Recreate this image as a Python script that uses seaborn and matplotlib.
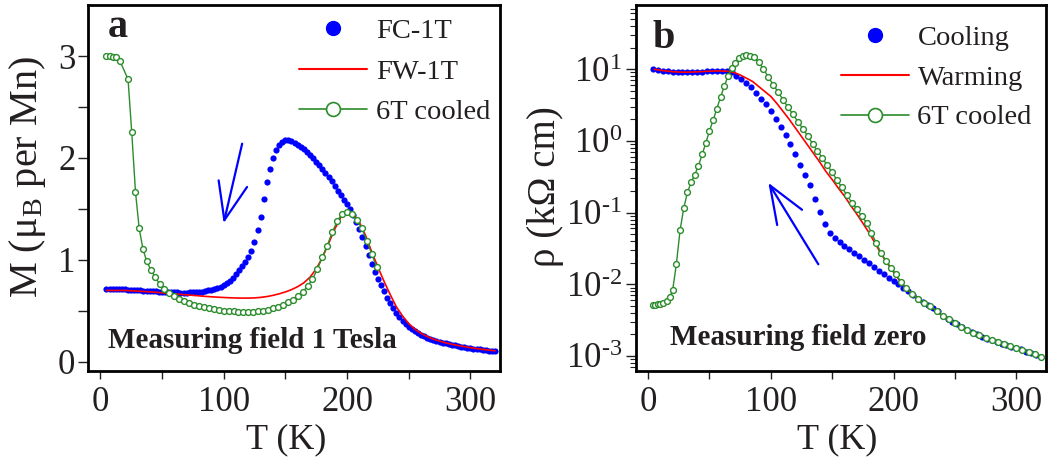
import numpy as np
import pandas as pd
import matplotlib
matplotlib.use("Agg")
import matplotlib.pyplot as plt
from matplotlib.lines import Line2D
from matplotlib.ticker import FuncFormatter, NullFormatter
import seaborn as sns

# ---------------- data: panel a (magnetization) ----------------
T_fc = [5, 7.5, 10, 12.5, 15, 17.5, 20, 22.5, 25, 27.5, 30, 32.5, 35, 37.5, 40, 42.5, 45, 47.5, 50,
        52.5, 55, 57.5, 60, 62.5, 65, 67.5, 70, 72.5, 75, 77.5, 80, 82.5, 85, 87.5, 90, 92.5, 95, 97.5,
        100, 102.5, 105, 107.5, 110, 112.5, 115, 117.5, 120, 122.5, 125, 127.5, 130, 132.5, 135, 137.5,
        140, 142.5, 145, 147.5, 150, 152.5, 155, 157.5, 160, 162.5, 165, 167.5, 170, 172.5, 175, 177.5,
        180, 182.5, 185, 187.5, 190, 192.5, 195, 197.5, 200, 202.5, 205, 207.5, 210, 212.5, 215, 217.5,
        220, 222.5, 225, 227.5, 230, 232.5, 235, 237.5, 240, 242.5, 245, 247.5, 250, 252.5, 255, 257.5,
        260, 262.5, 265, 267.5, 270, 272.5, 275, 277.5, 280, 282.5, 285, 287.5, 290, 292.5, 295, 297.5,
        300, 302.5, 305, 307.5, 310, 312.5, 315, 317.5, 320]
M_fc = [0.71, 0.71, 0.71, 0.71, 0.71, 0.71, 0.71, 0.708, 0.705, 0.703, 0.70, 0.70, 0.698, 0.696, 0.694,
        0.692, 0.69, 0.688, 0.686, 0.684, 0.682, 0.68, 0.68, 0.68, 0.679, 0.679, 0.679, 0.68, 0.68, 0.682,
        0.685, 0.688, 0.692, 0.70, 0.707, 0.715, 0.725, 0.737, 0.75, 0.77, 0.795, 0.825, 0.86, 0.90, 0.94,
        0.98, 1.03, 1.09, 1.18, 1.29, 1.42, 1.60, 1.76, 1.89, 2.00, 2.08, 2.13, 2.16, 2.175, 2.175, 2.165,
        2.15, 2.13, 2.11, 2.085, 2.06, 2.03, 2.00, 1.965, 1.93, 1.89, 1.85, 1.81, 1.77, 1.72, 1.68, 1.64,
        1.59, 1.55, 1.50, 1.44, 1.37, 1.30, 1.22, 1.14, 1.05, 0.96, 0.88, 0.81, 0.75, 0.69, 0.63, 0.575,
        0.525, 0.48, 0.44, 0.405, 0.375, 0.345, 0.32, 0.30, 0.28, 0.265, 0.25, 0.237, 0.225, 0.215, 0.205,
        0.196, 0.188, 0.18, 0.173, 0.166, 0.16, 0.154, 0.148, 0.143, 0.138, 0.133, 0.129, 0.125, 0.121,
        0.117, 0.113, 0.11, 0.106, 0.103]

T_fw = [5, 10, 15, 20, 25, 30, 35, 40, 45, 50, 55, 60, 65, 70, 75, 80, 85, 90, 95, 100, 105, 110, 115,
        120, 125, 130, 135, 140, 145, 150, 155, 160, 165, 170, 175, 180, 185, 190, 195, 200, 205, 210,
        215, 220, 225, 230, 235, 240, 245, 250, 255, 260, 265, 270, 275, 280, 285, 290, 295, 300, 305,
        310, 315, 320]
M_fw = [0.70, 0.70, 0.70, 0.70, 0.697, 0.694, 0.69, 0.686, 0.682, 0.677, 0.672, 0.667, 0.662, 0.657,
        0.652, 0.647, 0.642, 0.638, 0.634, 0.631, 0.628, 0.626, 0.625, 0.625, 0.627, 0.632, 0.64, 0.652,
        0.667, 0.685, 0.708, 0.737, 0.775, 0.83, 0.91, 1.02, 1.16, 1.30, 1.42, 1.47, 1.45, 1.37, 1.24,
        1.08, 0.93, 0.79, 0.66, 0.54, 0.45, 0.375, 0.32, 0.28, 0.248, 0.223, 0.203, 0.186, 0.172, 0.16,
        0.149, 0.139, 0.13, 0.122, 0.115, 0.108]

T_6t_a = [5, 7.5, 10, 12.5, 16, 22.5, 25.5, 28.5, 31.5, 34.5, 37.5, 41, 44.5, 48, 52, 56, 60, 64, 68,
          72, 76, 80, 84, 88, 92, 96, 100, 104, 108, 112, 116, 120, 124, 128, 132, 136, 140, 144, 148,
          152, 156, 160, 164, 168, 172, 176, 180, 184, 188, 192, 196, 200, 204, 208, 212, 216, 220, 224]
M_6t_a = [3.00, 3.00, 2.995, 2.99, 2.95, 2.77, 2.25, 1.67, 1.31, 1.11, 0.99, 0.90, 0.83, 0.765, 0.715,
          0.675, 0.645, 0.62, 0.595, 0.575, 0.56, 0.545, 0.533, 0.523, 0.515, 0.508, 0.502, 0.497, 0.494,
          0.492, 0.491, 0.491, 0.493, 0.497, 0.503, 0.512, 0.524, 0.54, 0.56, 0.583, 0.61, 0.643, 0.685,
          0.74, 0.81, 0.91, 1.03, 1.14, 1.27, 1.38, 1.45, 1.47, 1.45, 1.39, 1.31, 1.19, 1.06, 0.93]

# ---------------- data: panel b (resistivity, log10 of kOhm cm) ----------------
T_cool = [4, 8, 12, 16, 20, 24, 28, 32, 36, 40, 44, 48, 52, 56, 60, 64, 68, 72, 76, 80, 84, 88, 92, 96,
          100, 104, 108, 112, 116, 120, 124, 128, 132, 136, 140, 144, 148, 152, 156, 160, 164, 168, 172,
          176, 180, 184, 188, 192, 196, 200, 204, 208, 212, 216, 220, 224, 228, 232, 236, 240, 244, 248,
          252, 256, 260, 264, 268, 272, 276, 280, 284, 288, 292, 296, 300, 304, 308, 312, 316, 320]
logrho_cool = [1.00, 0.99, 0.98, 0.97, 0.965, 0.96, 0.958, 0.958, 0.96, 0.963, 0.967, 0.972, 0.976,
               0.978, 0.978, 0.975, 0.96, 0.91, 0.86, 0.81, 0.75, 0.67, 0.59, 0.51, 0.41, 0.31, 0.20,
               0.08, -0.05, -0.18, -0.33, -0.48, -0.62, -0.81, -0.99, -1.16, -1.28, -1.35, -1.41, -1.46,
               -1.51, -1.56, -1.61, -1.66, -1.71, -1.76, -1.81, -1.86, -1.91, -1.95, -2.00, -2.05, -2.09,
               -2.15, -2.20, -2.25, -2.29, -2.33, -2.38, -2.44, -2.48, -2.52, -2.56, -2.60, -2.64, -2.67,
               -2.70, -2.73, -2.76, -2.78, -2.80, -2.83, -2.85, -2.87, -2.89, -2.91, -2.94, -2.96, -2.99,
               -3.01]

T_warm = T_fw
logrho_warm = [1.00, 0.985, 0.975, 0.965, 0.96, 0.958, 0.96, 0.963, 0.968, 0.972, 0.975, 0.975, 0.97,
               0.955, 0.92, 0.875, 0.83, 0.76, 0.69, 0.62, 0.52, 0.41, 0.30, 0.18, 0.06, -0.06, -0.18,
               -0.30, -0.43, -0.54, -0.66, -0.77, -0.90, -1.02, -1.15, -1.28, -1.43, -1.58, -1.71, -1.83,
               -1.95, -2.05, -2.13, -2.20, -2.26, -2.31, -2.37, -2.44, -2.49, -2.54, -2.59, -2.64, -2.68,
               -2.71, -2.75, -2.78, -2.81, -2.84, -2.86, -2.89, -2.92, -2.95, -2.98, -3.01]

T_6t_b = [4, 6, 8, 10, 12.5, 15, 17.5, 20, 23, 26, 29, 32, 35, 38, 41, 44, 47, 50, 53, 56, 59, 62, 65,
          68, 71, 74, 77, 80, 83, 86, 90, 94, 98, 102, 106, 110, 114, 118, 122, 126, 130, 134, 138, 142,
          146, 150, 154, 158, 162, 166, 170, 174, 178, 182, 186, 190, 194, 198, 202, 206, 210, 215, 220,
          225, 230, 235, 240, 245, 250, 255, 260, 265, 270, 275, 280, 285, 290, 295, 300, 305, 310, 315,
          320]
logrho_6t_b = [-2.29, -2.285, -2.28, -2.27, -2.255, -2.23, -2.18, -2.08, -1.72, -1.25, -0.94, -0.72,
               -0.58, -0.47, -0.35, -0.19, -0.03, 0.14, 0.29, 0.45, 0.61, 0.76, 0.90, 1.01, 1.09, 1.15,
               1.19, 1.20, 1.19, 1.17, 1.10, 1.00, 0.89, 0.78, 0.68, 0.57, 0.47, 0.37, 0.27, 0.17, 0.07,
               -0.04, -0.14, -0.24, -0.34, -0.44, -0.55, -0.65, -0.76, -0.86, -0.95, -1.05, -1.14, -1.28,
               -1.43, -1.57, -1.68, -1.77, -1.86, -1.97, -2.05, -2.13, -2.20, -2.26, -2.31, -2.37, -2.44,
               -2.49, -2.54, -2.59, -2.64, -2.68, -2.71, -2.75, -2.78, -2.81, -2.84, -2.86, -2.89, -2.92,
               -2.95, -2.98, -3.01]

labels_a = ["FC-1T", "FW-1T", "6T cooled"]
labels_b = ["Cooling", "Warming", "6T cooled"]
xticks = [0, 100, 200, 300]

# ---------------- style ----------------
sns.set_theme(style="ticks")
plt.rcParams["font.family"] = ["Liberation Serif", "DejaVu Serif"]
plt.rcParams["mathtext.fontset"] = "custom"
plt.rcParams["mathtext.rm"] = "Liberation Serif"
plt.rcParams["mathtext.it"] = "Liberation Serif:italic"
plt.rcParams["mathtext.bf"] = "Liberation Serif:bold"

BLUE = "#0000ff"
RED = "#ff0000"
GREEN = "#2a8c2a"
TXT = "#231f20"

fig = plt.figure(figsize=(10.51, 4.58), dpi=100)
axa = fig.add_axes([0.0837, 0.19, 0.392, 0.799])
axb = fig.add_axes([0.605, 0.19, 0.390, 0.799])

df_fc = pd.DataFrame({"T": T_fc, "M": M_fc})
df_fw = pd.DataFrame({"T": T_fw, "M": M_fw})
df_6a = pd.DataFrame({"T": T_6t_a, "M": M_6t_a})

sns.scatterplot(data=df_fc, x="T", y="M", ax=axa, color=BLUE, s=20, linewidth=0, zorder=2)
sns.lineplot(data=df_fw, x="T", y="M", ax=axa, color=RED, linewidth=1.2, zorder=3)
sns.lineplot(data=df_6a, x="T", y="M", ax=axa, color=GREEN, linewidth=1.0, marker="o",
             markersize=4.2, markerfacecolor="white", markeredgecolor=GREEN, markeredgewidth=1.0,
             zorder=4)

df_cool = pd.DataFrame({"T": T_cool, "rho": np.power(10.0, logrho_cool)})
df_warm = pd.DataFrame({"T": T_warm, "rho": np.power(10.0, logrho_warm)})
df_6b = pd.DataFrame({"T": T_6t_b, "rho": np.power(10.0, logrho_6t_b)})

sns.scatterplot(data=df_cool, x="T", y="rho", ax=axb, color=BLUE, s=20, linewidth=0, zorder=2)
sns.lineplot(data=df_warm, x="T", y="rho", ax=axb, color=RED, linewidth=1.2, zorder=3)
sns.lineplot(data=df_6b, x="T", y="rho", ax=axb, color=GREEN, linewidth=1.0, marker="o",
             markersize=4.2, markerfacecolor="white", markeredgecolor=GREEN, markeredgewidth=1.0,
             zorder=4)
axb.set_yscale("log")

# axes ranges and ticks
for ax in (axa, axb):
    ax.set_xlim(-10, 324)
    ax.set_xticks(xticks)
    ax.set_xticks([50, 150, 250], minor=True)
    for sp in ax.spines.values():
        sp.set_linewidth(2.0)
        sp.set_color("black")
    ax.tick_params(axis="both", which="both", direction="out", top=False, right=False,
                   colors=TXT, labelcolor=TXT)
    ax.tick_params(axis="x", which="both", length=6, width=1, labelsize=25, pad=5)

axa.set_ylim(-0.09, 3.5)
axa.set_yticks([0, 1, 2, 3])
axa.set_yticks([0.5, 1.5, 2.5], minor=True)
axa.tick_params(axis="y", which="both", length=7, width=1, labelsize=25, pad=2)

axb.set_ylim(10 ** -3.21, 10 ** 1.895)
axb.yaxis.set_major_formatter(FuncFormatter(
    lambda v, pos: r"$\mathregular{10^{%s}}$" % str(int(round(np.log10(v)))).replace("-", "\u2010")))
axb.yaxis.set_minor_formatter(NullFormatter())
axb.tick_params(axis="y", which="major", length=7, width=1, labelsize=25, pad=3)
axb.tick_params(axis="y", which="minor", length=4, width=0.8)

axa.set_xlabel("T (K)", fontsize=26, color=TXT)
axb.set_xlabel("T (K)", fontsize=26, color=TXT)
axa.xaxis.set_label_coords(0.48, -0.142)
axb.xaxis.set_label_coords(0.49, -0.142)
axa.set_ylabel(r"M ($\mathregular{\mu_B}$ per Mn)", fontsize=29, color=TXT)
axb.set_ylabel(r"ρ (kΩ cm)", fontsize=28, color=TXT)
axa.yaxis.set_label_coords(-0.097, 0.529)
axb.yaxis.set_label_coords(-0.175, 0.504)

# panel letters and notes
axa.text(0.049, 0.913, "a", transform=axa.transAxes, fontsize=29, fontweight="bold",
         color=TXT, va="baseline", ha="left")
axb.text(0.041, 0.882, "b", transform=axb.transAxes, fontsize=29, fontweight="bold",
         color=TXT, va="baseline", ha="left")
axa.text(0.049, 0.063, "Measuring field 1 Tesla", transform=axa.transAxes, fontsize=21,
         fontweight="bold", color=TXT, va="baseline", ha="left")
axb.text(0.083, 0.071, "Measuring field zero", transform=axb.transAxes, fontsize=21,
         fontweight="bold", color=TXT, va="baseline", ha="left")

# arrows
arrow_style = dict(arrowstyle="->,head_length=0.9,head_width=0.35", color=BLUE, lw=1.6,
                   mutation_scale=30, shrinkA=0, shrinkB=0)
axa.annotate("", xy=(100, 1.36), xytext=(115, 2.14), arrowprops=arrow_style)
axb.annotate("", xy=(98, 0.26), xytext=(138.7, 0.019), arrowprops=arrow_style)

# legends
def make_handles():
    return [
        Line2D([], [], color=BLUE, marker="o", linestyle="none", markersize=10),
        Line2D([], [], color=RED, linewidth=1.5),
        Line2D([], [], color=GREEN, linewidth=1.2, marker="o", markersize=10,
               markerfacecolor="white", markeredgecolor=GREEN, markeredgewidth=1.2),
    ]

leg_kw = dict(loc="upper right", frameon=False, fontsize=20.5, handlelength=2.4,
              handletextpad=0.3, borderaxespad=0.0, borderpad=0.2)
lga = axa.legend(make_handles(), labels_a, bbox_to_anchor=(0.99, 0.98), labelspacing=0.52, **leg_kw)
lgb = axb.legend(make_handles(), labels_b, bbox_to_anchor=(0.98, 0.96), labelspacing=0.48, **leg_kw)
for lg in (lga, lgb):
    for t in lg.get_texts():
        t.set_color(TXT)

fig.savefig("out.png", dpi=100)
